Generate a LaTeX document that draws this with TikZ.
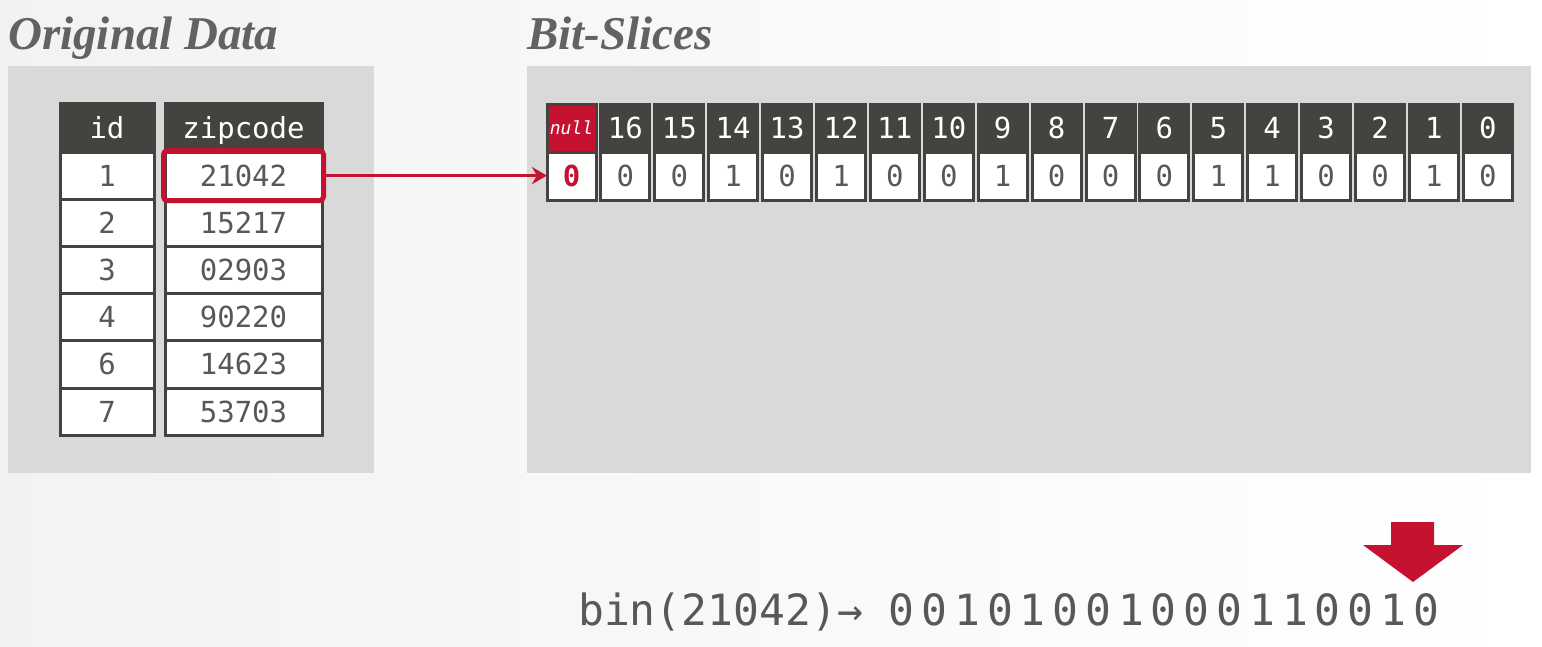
\documentclass[tikz,border=0pt]{standalone}
\usepackage{fontspec}
\setmainfont{Liberation Serif}
\setmonofont{DejaVu Sans Mono}
\usetikzlibrary{positioning}
\usetikzlibrary{arrows.meta}
\definecolor{cmured}{HTML}{C41230}
\definecolor{hdrgray}{HTML}{45433F}
\definecolor{txtgray}{HTML}{58585A}
\definecolor{panelgray}{HTML}{D9D9D9}
\definecolor{titlegray}{HTML}{626262}

\begin{document}
\begin{tikzpicture}[x=1pt, y=-1pt, >={Stealth[length=15pt, width=17pt]}, node distance=0pt, font=\ttfamily]
		\tikzstyle{panel}=[fill=panelgray, draw=none, inner sep=0pt, outer sep=0pt]
		\tikzstyle{title}=[text=titlegray, inner sep=0pt, anchor=base west, font=\fontsize{47}{47}\selectfont\rmfamily\bfseries\itshape]
		\tikzstyle{hdr}=[fill=hdrgray, draw=hdrgray, text=white, line width=3pt, inner sep=0pt, outer sep=0pt, minimum height=49pt, text height=21pt, text depth=0pt, font=\fontsize{29}{29}\selectfont\ttfamily]
		\tikzstyle{cell}=[fill=white, draw=hdrgray, text=txtgray, line width=3pt, inner sep=0pt, outer sep=0pt, minimum height=47.2pt, text height=21pt, text depth=0pt, font=\fontsize{29}{29}\selectfont\ttfamily]
		\tikzstyle{bhdr}=[hdr, minimum width=49pt, minimum height=48pt]
		\tikzstyle{bcell}=[cell, minimum width=49pt, minimum height=48pt]
		
		\useasboundingbox (0,0) rectangle (1542,646);
		\shade[left color=black!5, right color=white] (0,0) rectangle (1542,646);
		
		% panels and titles
		\node[panel, minimum width=366pt, minimum height=407pt] (origpanel) at (191,269.5) {};
		\node[panel, minimum width=1004pt, minimum height=407pt] (slicepanel) at (1029,269.5) {};
		\node[title] (origtitle) at (8,49) {Original Data};
		\node[title] (slicetitle) at (527,49) {Bit-Slices};
		
		% original table
		\node[hdr, minimum width=94pt] (idh) at (107,127.5) {id};
		\node[hdr, minimum width=157pt] (ziph) at (243.5,127.5) {zipcode};
		\foreach \id/\zip [count=\i, remember=\i as \j (initially h)] in {1/21042, 2/15217, 3/02903, 4/90220, 6/14623, 7/53703} {
			\node[cell, minimum width=94pt, below=of id\j] (id\i) {\id};
			\node[cell, minimum width=157pt, below=of zip\j] (zip\i) {\zip};
		}
		\node[draw=cmured, line width=5pt, rounded corners=4pt, minimum width=160pt, minimum height=50pt, outer sep=2.5pt] (hl) at (zip1) {};
		
		% bit slices
		\node[bhdr, fill=cmured, draw=hdrgray, font=\fontsize{18}{18}\selectfont\ttfamily\itshape, text height=13pt] (bh0) at (571.5,128) {null};
		\node[bcell, below=of bh0, text=cmured, font=\fontsize{29}{29}\selectfont\ttfamily\bfseries] (bv0) {0};
		\foreach \lbl/\bit [count=\i, remember=\i as \j (initially 0)] in {16/0, 15/0, 14/1, 13/0, 12/1, 11/0, 10/0, 9/1, 8/0, 7/0, 6/0, 5/1, 4/1, 3/0, 2/0, 1/1, 0/0} {
			\node[bhdr, right=4.9pt of bh\j] (bh\i) {\lbl};
			\node[bcell, below=of bh\i] (bv\i) {\bit};
		}
		
		\draw[->, cmured, line width=3pt] (hl.east) -- (hl.east -| bv0.west);
		
		% binary string
		\node[anchor=base west, inner sep=0pt, text=txtgray, font=\fontsize{43}{43}\selectfont\ttfamily] (bintext) at (578,625) {bin(21042)→ {\addfontfeature{LetterSpace=16}00101001000110010}};
		\fill[cmured] (1391,522) -- (1434,522) -- (1434,545) -- (1463,545) -- (1413,582) -- (1363,545) -- (1391,545) -- cycle;
	\end{tikzpicture}
\end{document}
